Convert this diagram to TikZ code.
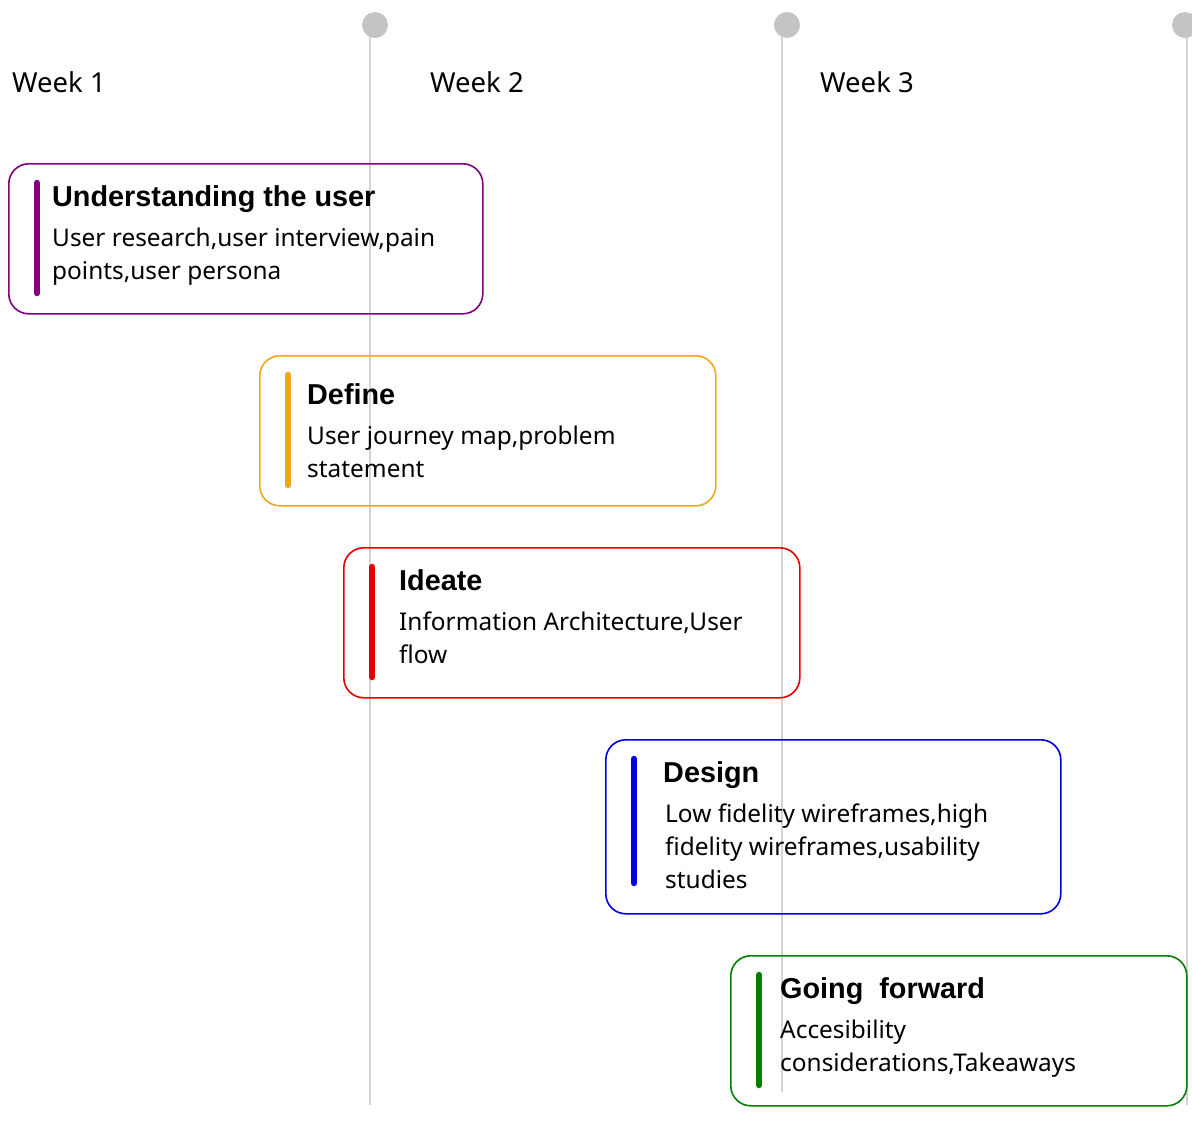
\documentclass[tikz,border=0pt]{standalone}
\usepackage{fontspec}
\setmainfont{Noto Sans}
\newfontfamily\headfont{Liberation Sans}
\usetikzlibrary{positioning}
\definecolor{phasepurple}{HTML}{800080}
\definecolor{phaseorange}{HTML}{F2A71B}
\definecolor{phasered}{HTML}{E50000}
\definecolor{phaseblue}{HTML}{0000E0}
\definecolor{phasegreen}{HTML}{008000}
\definecolor{trackgray}{HTML}{D4D4D4}
\definecolor{dotgray}{HTML}{C4C4C4}
\tikzstyle{card} = [draw, line width=1.6pt, rounded corners=20pt, anchor=north west, inner sep=0pt]
\tikzstyle{head} = [anchor=base west, inner sep=0pt, font=\headfont\bfseries\fontsize{28.8}{29}\selectfont]
\tikzstyle{body} = [anchor=base west, inner sep=0pt, align=left, font=\fontsize{24.4}{33}\selectfont]
\tikzstyle{week} = [anchor=base west, inner sep=0pt, font=\fontsize{27.5}{28}\selectfont]
\tikzstyle{bar} = [line width=6.5pt, line cap=round]
\tikzstyle{track} = [draw=trackgray, line width=1.2pt]
\tikzstyle{dot} = [circle, fill=dotgray, minimum size=26pt, inner sep=0pt]

\begin{document}
\begin{tikzpicture}[x=1pt, y=-1pt]
  \useasboundingbox (0,0) rectangle (1192,1143);
  % timeline tracks
  \coordinate (t1) at (370,25);
  \coordinate (t2) at (782,25);
  \coordinate (t3) at (1187,25);
  \coordinate (e1) at (370,1105);
  \coordinate (e2) at (782,1092);
  \coordinate (e3) at (1187,1105);
  \draw [track] (t1) -- (e1);
  \draw [track] (t2) -- (e2);
  \draw [track] (t3) -- (e3);
  \node (d1) at (375,25) [dot] {};
  \node (d2) at (787,25) [dot] {};
  \node (d3) at (1185,25) [dot] {};
  % week labels
  \node (w1) at (12,92) [week] {Week 1};
  \node (w2) at (430,92) [week] {Week 2};
  \node (w3) at (820,92) [week] {Week 3};
  % phase cards
  \node (user) at (8,163) [card, draw=phasepurple, minimum width=474pt, minimum height=150pt] {};
  \node (define) at (259,355) [card, draw=phaseorange, minimum width=456pt, minimum height=150pt] {};
  \node (ideate) at (343,547) [card, draw=phasered, minimum width=456pt, minimum height=150pt] {};
  \node (design) at (605,739) [card, draw=phaseblue, minimum width=455pt, minimum height=174pt] {};
  \node (forward) at (730,955) [card, draw=phasegreen, minimum width=456pt, minimum height=150pt] {};
  \draw [bar, phasepurple] (37,183) -- (37,293);
  \draw [bar, phaseorange] (288,375) -- (288,485);
  \draw [bar, phasered] (372,567) -- (372,677);
  \draw [bar, phaseblue] (634,759) -- (634,883);
  \draw [bar, phasegreen] (759,975) -- (759,1085);
  % titles and texts (base = last line)
  \node (userh) at (52,206) [head] {Understanding the user};
  \node (userb) at (52,279) [body] {User research,user interview,pain\\points,user persona};
  \node (defineh) at (307,404) [head] {Define};
  \node (defineb) at (307,477) [body] {User journey map,problem\\statement};
  \node (ideateh) at (399,590) [head] {Ideate};
  \node (ideateb) at (399,663) [body] {Information Architecture,User\\flow};
  \node (designh) at (663,782) [head] {Design};
  \node (designb) at (665,888) [body] {Low fidelity wireframes,high\\fidelity wireframes,usability\\studies};
  \node (forwardh) at (780,998) [head] {Going\ \ forward};
  \node (forwardb) at (780,1071) [body] {Accesibility\\considerations,Takeaways};
\end{tikzpicture}
\end{document}
